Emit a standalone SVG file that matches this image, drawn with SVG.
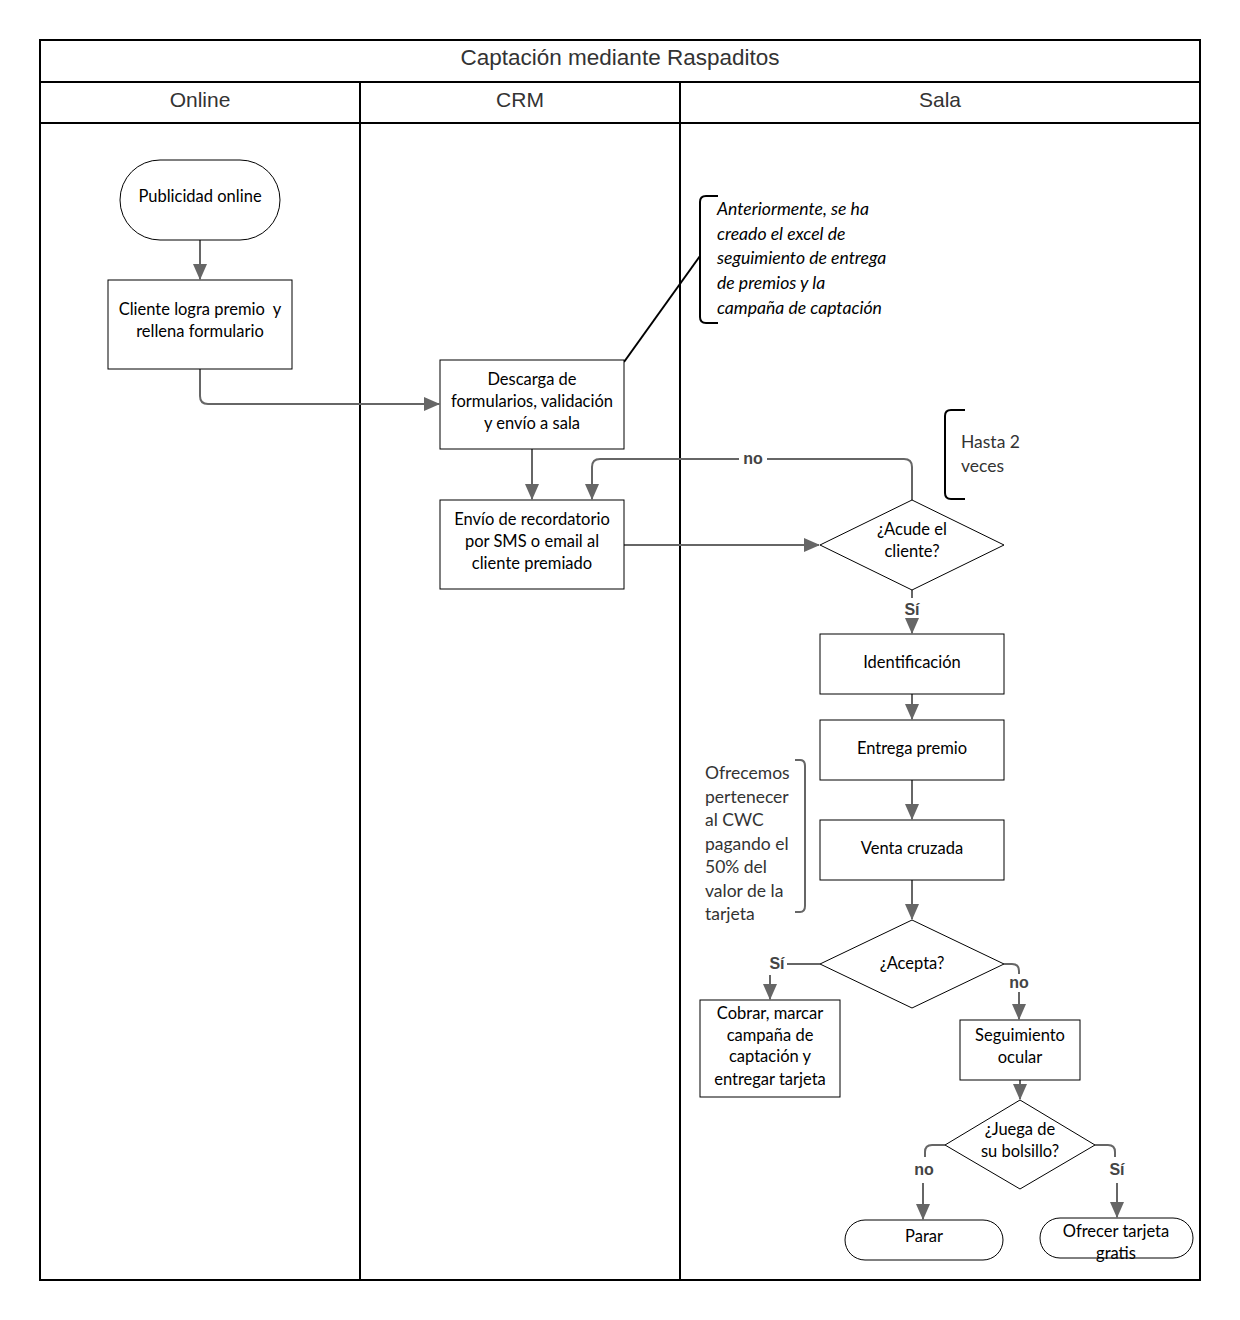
<svg xmlns="http://www.w3.org/2000/svg" width="1240" height="1320" viewBox="0 0 1240 1320">
<style>
.frame{fill:none;stroke:#000;stroke-width:2}
.box{fill:#fff;stroke:#000;stroke-width:1}
.t{font-family:Lato,"Liberation Sans",sans-serif;font-size:16.5px;fill:#000;text-anchor:middle}
.hd{font-family:"Liberation Sans",Arial,sans-serif;font-size:21px;fill:#333;text-anchor:middle}
.ttl{font-size:22.5px}
.lbl{font-family:"Liberation Sans",Arial,sans-serif;font-size:16px;font-weight:bold;fill:#444;text-anchor:middle}
.ann{font-family:Lato,"Liberation Sans",sans-serif;font-size:17.6px;font-style:italic;fill:#000}
.note{font-family:Lato,"Liberation Sans",sans-serif;font-size:17.5px;fill:#333}
.c{fill:none;stroke:#666;stroke-width:2}
</style>
<defs>
<marker id="ah" markerWidth="16" markerHeight="14" refX="15" refY="7" orient="auto" markerUnits="userSpaceOnUse">
<path d="M0,0 L16,7 L0,14 Z" fill="#666"/>
</marker>
</defs>
<rect width="1240" height="1320" fill="#fff"/>
<g id="pool">
<rect class="frame" x="40" y="40" width="1160" height="1240"/>
<line class="frame" x1="40" y1="82" x2="1200" y2="82"/>
<line class="frame" x1="40" y1="123" x2="1200" y2="123"/>
<line class="frame" x1="360" y1="82" x2="360" y2="1280"/>
<line class="frame" x1="680" y1="82" x2="680" y2="1280"/>
<text class="hd ttl" x="620" y="65">Captación mediante Raspaditos</text>
<text class="hd" x="200" y="107">Online</text>
<text class="hd" x="520" y="107">CRM</text>
<text class="hd" x="940" y="107">Sala</text>
</g>
<g id="connectors">
<line class="c" x1="200" y1="240" x2="200" y2="279" marker-end="url(#ah)"/>
<path class="c" d="M200,369 V396 Q200,404 208,404 H439" marker-end="url(#ah)"/>
<line class="c" x1="532" y1="449" x2="532" y2="499" marker-end="url(#ah)"/>
<line class="c" x1="624" y1="545" x2="819" y2="545" marker-end="url(#ah)"/>
<path class="c" d="M912,500 V467 Q912,459 904,459 H600 Q592,459 592,467 V499" marker-end="url(#ah)"/>
<line class="c" x1="912" y1="590" x2="912" y2="598"/>
<line class="c" x1="912" y1="620" x2="912" y2="633" marker-end="url(#ah)"/>
<line class="c" x1="912" y1="694" x2="912" y2="719" marker-end="url(#ah)"/>
<line class="c" x1="912" y1="780" x2="912" y2="819" marker-end="url(#ah)"/>
<line class="c" x1="912" y1="880" x2="912" y2="919" marker-end="url(#ah)"/>
<line class="c" x1="820" y1="964" x2="787" y2="964"/>
<line class="c" x1="770" y1="975" x2="770" y2="999" marker-end="url(#ah)"/>
<path class="c" d="M1004,964 H1012 Q1019,964 1019,971 V974"/>
<line class="c" x1="1019" y1="992" x2="1019" y2="1019" marker-end="url(#ah)"/>
<line class="c" x1="1020" y1="1080" x2="1020" y2="1099" marker-end="url(#ah)"/>
<path class="c" d="M945,1145 H932 Q925,1145 925,1152 V1157"/>
<line class="c" x1="923" y1="1183" x2="923" y2="1219" marker-end="url(#ah)"/>
<path class="c" d="M1095,1145 H1108 Q1115,1145 1115,1152 V1157"/>
<line class="c" x1="1117" y1="1183" x2="1117" y2="1217" marker-end="url(#ah)"/>
<line x1="624" y1="362" x2="700" y2="256" stroke="#000" stroke-width="2"/>
</g>
<g id="labels">
<rect x="739" y="449" width="28" height="18" fill="#fff"/>
<text class="lbl" x="753" y="464">no</text>
<text class="lbl" x="912" y="615">Sí</text>
<text class="lbl" x="777" y="969">Sí</text>
<text class="lbl" x="1019" y="988">no</text>
<text class="lbl" x="924" y="1175">no</text>
<text class="lbl" x="1117" y="1175">Sí</text>
</g>
<g id="n-publicidad">
<rect class="box" x="120" y="160" width="160" height="80" rx="40" ry="40"/>
<text class="t" x="200" y="202">Publicidad online</text>
</g>
<g id="n-cliente">
<rect class="box" x="108" y="280" width="184" height="89"/>
<text class="t" x="200" y="315" xml:space="preserve">Cliente logra premio  y</text>
<text class="t" x="200" y="337">rellena formulario</text>
</g>
<g id="n-descarga">
<rect class="box" x="440" y="360" width="184" height="89"/>
<text class="t" x="532" y="385">Descarga de</text>
<text class="t" x="532" y="407">formularios, validación</text>
<text class="t" x="532" y="429">y envío a sala</text>
</g>
<g id="n-annotation">
<path d="M718,196 H706 Q700,196 700,202 V317 Q700,323 706,323 H718" fill="none" stroke="#000" stroke-width="2"/>
<text class="ann" x="717" y="215">Anteriormente, se ha</text>
<text class="ann" x="717" y="240">creado el excel de</text>
<text class="ann" x="717" y="264">seguimiento de entrega</text>
<text class="ann" x="717" y="289">de premios y la</text>
<text class="ann" x="717" y="314">campaña de captación</text>
</g>
<g id="n-envio">
<rect class="box" x="440" y="500" width="184" height="89"/>
<text class="t" x="532" y="525">Envío de recordatorio</text>
<text class="t" x="532" y="547">por SMS o email al</text>
<text class="t" x="532" y="569">cliente premiado</text>
</g>
<g id="n-acude">
<polygon class="box" points="912,500 1004,545 912,590 820,545"/>
<text class="t" x="912" y="535">¿Acude el</text>
<text class="t" x="912" y="557">cliente?</text>
</g>
<g id="n-hasta">
<path d="M965,410 H951 Q945,410 945,416 V493 Q945,499 951,499 H965" fill="none" stroke="#000" stroke-width="2"/>
<text class="note" x="961" y="448">Hasta 2</text>
<text class="note" x="961" y="472">veces</text>
</g>
<g id="n-identificacion">
<rect class="box" x="820" y="634" width="184" height="60"/>
<text class="t" x="912" y="668">Identificación</text>
</g>
<g id="n-entrega">
<rect class="box" x="820" y="720" width="184" height="60"/>
<text class="t" x="912" y="754">Entrega premio</text>
</g>
<g id="n-venta">
<rect class="box" x="820" y="820" width="184" height="60"/>
<text class="t" x="912" y="854">Venta cruzada</text>
</g>
<g id="n-ofrecemos">
<path d="M795,760 H800 Q805,760 805,766 V906 Q805,912 800,912 H795" fill="none" stroke="#666" stroke-width="2"/>
<text class="note" x="705" y="779">Ofrecemos</text>
<text class="note" x="705" y="803">pertenecer</text>
<text class="note" x="705" y="826">al CWC</text>
<text class="note" x="705" y="850">pagando el</text>
<text class="note" x="705" y="873">50% del</text>
<text class="note" x="705" y="897">valor de la</text>
<text class="note" x="705" y="920">tarjeta</text>
</g>
<g id="n-acepta">
<polygon class="box" points="912,920 1004,964 912,1008 820,964"/>
<text class="t" x="912" y="969">¿Acepta?</text>
</g>
<g id="n-cobrar">
<rect class="box" x="700" y="1000" width="140" height="97"/>
<text class="t" x="770" y="1019">Cobrar, marcar</text>
<text class="t" x="770" y="1041">campaña de</text>
<text class="t" x="770" y="1062">captación y</text>
<text class="t" x="770" y="1085">entregar tarjeta</text>
</g>
<g id="n-seguimiento">
<rect class="box" x="960" y="1020" width="120" height="60"/>
<text class="t" x="1020" y="1041">Seguimiento</text>
<text class="t" x="1020" y="1063">ocular</text>
</g>
<g id="n-juega">
<polygon class="box" points="1020,1100 1095,1145 1020,1189 945,1145"/>
<text class="t" x="1020" y="1135">¿Juega de</text>
<text class="t" x="1020" y="1157">su bolsillo?</text>
</g>
<g id="n-parar">
<rect class="box" x="845" y="1220" width="158" height="40" rx="20" ry="20"/>
<text class="t" x="924" y="1242">Parar</text>
</g>
<g id="n-ofrecer">
<rect class="box" x="1040" y="1218" width="153" height="40" rx="20" ry="20"/>
<text class="t" x="1116" y="1237">Ofrecer tarjeta</text>
<text class="t" x="1116" y="1259">gratis</text>
</g>
</svg>
